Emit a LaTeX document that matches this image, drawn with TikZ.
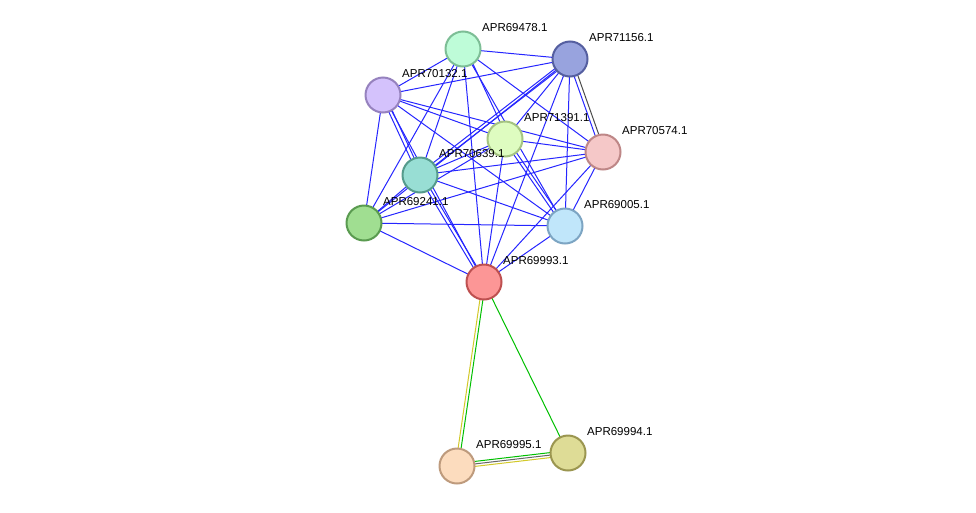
\documentclass[tikz,border=0pt]{standalone}
\usepackage{fontspec}
\setmainfont{Liberation Sans}
\begin{document}
\begin{tikzpicture}[x=1pt,y=-1pt,
  nd/.style={circle,minimum size=35pt,inner sep=0pt,line width=2pt},
  lb/.style={font=\fontsize{11.5pt}{13pt}\selectfont,anchor=south west,inner sep=0pt},
  e/.style={blue!85!white,line width=1pt}]
\useasboundingbox (0,0) rectangle (976,512);
\fill[white] (0,0) rectangle (976,512);
\coordinate (a) at (463,49);
\coordinate (b) at (570,59);
\coordinate (c) at (383,95);
\coordinate (d) at (505,139);
\coordinate (f) at (603,152);
\coordinate (g) at (420,175);
\coordinate (h) at (364,223);
\coordinate (i) at (565,226);
\coordinate (j) at (484,282);
\coordinate (k) at (457,466);
\coordinate (l) at (568,453);
\foreach \u/\v in {a/b,a/c,a/f,a/i,a/j,a/g,a/h,b/c,b/d,b/i,b/j,b/h,c/d,c/f,c/h,c/i,c/j,d/f,d/g,d/j,d/h,f/g,f/h,f/i,f/j,g/i,g/h,h/i,h/j,i/j}
  \draw[e] (\u) -- (\v);
\draw[e] ([xshift=3pt]a) -- ([xshift=3pt]d);
\draw[e] ([xshift=-2pt]c) -- ([xshift=-2pt]g);
\draw[e] ([xshift=2pt]c) -- ([xshift=2pt]g);
\draw[e] ([yshift=-2pt]b) -- ([yshift=-2pt]g);
\draw[e] ([yshift=2pt]b) -- ([yshift=2pt]g);
\draw[e] ([xshift=-2pt]b) -- ([xshift=-2pt]f);
\draw[black!70,line width=1pt] ([xshift=2pt]b) -- ([xshift=2pt]f);
\draw[e] ([xshift=-2pt]d) -- ([xshift=-2pt]i);
\draw[e] ([xshift=2pt]d) -- ([xshift=2pt]i);
\draw[e] ([xshift=-2pt]g) -- ([xshift=-2pt]j);
\draw[e] ([xshift=2pt]g) -- ([xshift=2pt]j);
\draw[green!75!black,line width=1pt] ([xshift=1.5pt]j) -- ([xshift=1.5pt]k);
\draw[yellow!80!black,line width=1pt] ([xshift=-1.5pt]j) -- ([xshift=-1.5pt]k);
\draw[green!75!black,line width=1pt] (j) -- (l);
\draw[yellow!80!black,line width=1pt] ([yshift=-2.5pt]k) -- ([yshift=-2.5pt]l);
\draw[black!60,line width=1pt] (k) -- (l);
\draw[green!75!black,line width=1pt] ([yshift=2.5pt]k) -- ([yshift=2.5pt]l);
\node[nd,fill={rgb,255:red,190;green,252;blue,216},draw={rgb,255:red,125;green,190;blue,150}] (A) at (a) {};
\node[nd,fill={rgb,255:red,152;green,163;blue,222},draw={rgb,255:red,85;green,95;blue,160}] (B) at (b) {};
\node[nd,fill={rgb,255:red,212;green,194;blue,252},draw={rgb,255:red,150;green,130;blue,190}] (C) at (c) {};
\node[nd,fill={rgb,255:red,222;green,252;blue,192},draw={rgb,255:red,165;green,195;blue,130}] (D) at (d) {};
\node[nd,fill={rgb,255:red,245;green,200;blue,200},draw={rgb,255:red,190;green,135;blue,135}] (F) at (f) {};
\node[nd,fill={rgb,255:red,152;green,222;blue,212},draw={rgb,255:red,85;green,155;blue,140}] (G) at (g) {};
\node[nd,fill={rgb,255:red,160;green,222;blue,145},draw={rgb,255:red,90;green,155;blue,80}] (H) at (h) {};
\node[nd,fill={rgb,255:red,192;green,230;blue,250},draw={rgb,255:red,125;green,165;blue,195}] (I) at (i) {};
\node[nd,fill={rgb,255:red,252;green,150;blue,150},draw={rgb,255:red,190;green,80;blue,80}] (J) at (j) {};
\node[nd,fill={rgb,255:red,252;green,220;blue,190},draw={rgb,255:red,190;green,155;blue,125}] (K) at (k) {};
\node[nd,fill={rgb,255:red,222;green,220;blue,150},draw={rgb,255:red,155;green,150;blue,80}] (L) at (l) {};
\node[lb] at (482,32) {APR69478.1};
\node[lb] at (589,42) {APR71156.1};
\node[lb] at (402,78) {APR70132.1};
\node[lb] at (524,122) {APR71391.1};
\node[lb] at (622,135) {APR70574.1};
\node[lb] at (439,158) {APR70639.1};
\node[lb] at (383,206) {APR69241.1};
\node[lb] at (584,209) {APR69005.1};
\node[lb] at (503,265) {APR69993.1};
\node[lb] at (476,449) {APR69995.1};
\node[lb] at (587,436) {APR69994.1};
\end{tikzpicture}
\end{document}
